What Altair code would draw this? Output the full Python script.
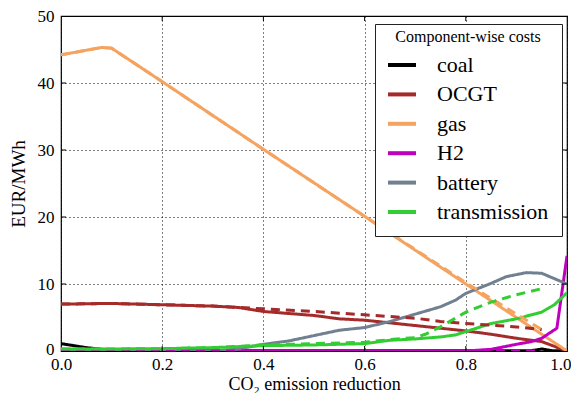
import altair as alt
import pandas as pd

FONT = "Liberation Serif"

series = ["coal", "OCGT", "gas", "H2", "battery", "transmission"]
colors = ["#000000", "#A52A2A", "#F4A460", "#BF00BF", "#708090", "#32CD32"]

# solid lines (scenario A)
coal_x = [0.0, 0.05, 0.1, 0.2, 0.4, 0.6, 0.8, 0.93, 0.95, 0.97, 1.0]
coal_y = [1.1, 0.5, 0.1, 0.05, 0.05, 0.05, 0.05, 0.05, 0.3, 0.05, 0.0]

ocgt_x = [0.0, 0.1, 0.2, 0.3, 0.35, 0.4, 0.45, 0.5, 0.55, 0.6, 0.65, 0.7, 0.75, 0.8, 0.85, 0.9, 0.95, 1.0]
ocgt_y = [7.0, 7.1, 6.9, 6.7, 6.5, 5.9, 5.6, 5.3, 4.8, 4.6, 4.2, 3.8, 3.4, 3.0, 2.5, 1.9, 1.4, 0.0]

gas_x = [0.0, 0.08, 0.1, 0.2, 0.4, 0.6, 0.8, 0.9, 0.95, 1.0]
gas_y = [44.2, 45.3, 45.2, 40.2, 30.1, 20.1, 10.0, 5.0, 2.5, 0.0]

h2_x = [0.0, 0.8, 0.85, 0.9, 0.93, 0.95, 0.98, 1.0]
h2_y = [0.0, 0.0, 0.25, 1.0, 1.4, 1.9, 3.4, 14.2]

battery_x = [0.0, 0.3, 0.35, 0.4, 0.45, 0.5, 0.55, 0.6, 0.65, 0.7, 0.75, 0.78, 0.8, 0.85, 0.88, 0.92, 0.95, 1.0]
battery_y = [0.0, 0.0, 0.3, 1.0, 1.5, 2.3, 3.1, 3.5, 4.4, 5.5, 6.6, 7.6, 8.6, 10.1, 11.1, 11.7, 11.6, 10.0]

trans_x = [0.0, 0.1, 0.2, 0.3, 0.4, 0.5, 0.6, 0.65, 0.7, 0.75, 0.78, 0.8, 0.85, 0.9, 0.95, 0.975, 1.0]
trans_y = [0.3, 0.3, 0.35, 0.5, 0.8, 0.9, 1.1, 1.6, 1.8, 2.1, 2.4, 2.9, 4.1, 4.8, 5.8, 6.9, 8.7]

# dashed lines (scenario B)
ocgt_dx = [0.0, 0.1, 0.2, 0.3, 0.35, 0.4, 0.5, 0.6, 0.7, 0.75, 0.8, 0.9, 0.95]
ocgt_dy = [7.0, 7.1, 6.9, 6.7, 6.5, 6.3, 5.9, 5.4, 4.9, 4.4, 4.1, 3.6, 3.2]

gas_dx = [0.0, 0.08, 0.1, 0.2, 0.4, 0.6, 0.8, 0.9, 0.95]
gas_dy = [44.2, 45.3, 45.2, 40.2, 30.1, 20.1, 10.2, 5.5, 3.2]

h2_dx = [0.0, 0.95]
h2_dy = [0.0, 0.0]

trans_dx = [0.0, 0.1, 0.2, 0.3, 0.4, 0.5, 0.6, 0.65, 0.7, 0.72, 0.75, 0.8, 0.85, 0.9, 0.95]
trans_dy = [0.3, 0.3, 0.35, 0.5, 0.9, 1.1, 1.3, 1.7, 2.0, 2.5, 3.6, 5.8, 7.3, 8.4, 9.3]

x_ticks = [0.0, 0.2, 0.4, 0.6, 0.8, 1.0]
y_ticks = [0, 10, 20, 30, 40, 50]

rows = []
def add(name, scen, xs, ys):
    for a, b in zip(xs, ys):
        rows.append({"x": a, "y": b, "series": name, "scenario": scen, "key": name + scen})

add("coal", "solid", coal_x, coal_y)
add("OCGT", "solid", ocgt_x, ocgt_y)
add("gas", "solid", gas_x, gas_y)
add("H2", "solid", h2_x, h2_y)
add("battery", "solid", battery_x, battery_y)
add("transmission", "solid", trans_x, trans_y)
add("OCGT", "dashed", ocgt_dx, ocgt_dy)
add("gas", "dashed", gas_dx, gas_dy)
add("H2", "dashed", h2_dx, h2_dy)
add("transmission", "dashed", trans_dx, trans_dy)
df = pd.DataFrame(rows)

W, H = 506, 335
xs = alt.Scale(domain=[0, 1], nice=False, zero=False)
ys = alt.Scale(domain=[0, 50], nice=False)

x_axis = alt.Axis(values=x_ticks, format=".1f", grid=True, gridDash=[1, 3],
                  gridColor="black", gridOpacity=1, gridWidth=1, ticks=False,
                  domain=False, labelPadding=5, titlePadding=3, labelFlush=False,
                  labelAlign=alt.ExprRef(expr="datum.value == 1 ? 'right' : 'center'"),
                  labelOffset=alt.ExprRef(expr="datum.value == 1 ? 4 : 0"),
                  titleFontSize=18)
y_axis = alt.Axis(values=y_ticks, format="d", grid=True, gridDash=[1, 3],
                  gridColor="black", gridOpacity=1, gridWidth=1, ticks=False,
                  domain=False, labelPadding=7, titlePadding=9, labelFlush=False,
                  labelOffset=alt.ExprRef(expr="datum.value == 0 ? -2 : 0"),
                  titleFontSize=19)
XT = "CO₂ emission reduction"
YT = "EUR/MWh"

lines = alt.Chart(df).mark_line(strokeWidth=3, clip=True).encode(
    x=alt.X("x:Q", scale=xs, title=XT, axis=x_axis),
    y=alt.Y("y:Q", scale=ys, title=YT, axis=y_axis),
    color=alt.Color("series:N", scale=alt.Scale(domain=series, range=colors),
                    legend=alt.Legend(title="Component-wise costs", orient="none",
                                      legendX=314, legendY=8, direction="vertical",
                                      strokeColor="#222222", fillColor="white",
                                      padding=13, symbolType="stroke",
                                      symbolStrokeWidth=4, symbolSize=784,
                                      symbolOffset=-2,
                                      labelFont=FONT, labelFontSize=22,
                                      titleFont=FONT, titleFontSize=16,
                                      titleBaseline="middle",
                                      titleFontWeight="normal", titleAnchor="middle",
                                      labelOffset=19, rowPadding=2.4, titlePadding=-4,
                                      labelColor="black", titleColor="black")),
    strokeDash=alt.StrokeDash("scenario:N",
                              scale=alt.Scale(domain=["solid", "dashed"], range=[[1, 0], [9, 6]]),
                              legend=None),
    detail="key:N",
)

xt = pd.DataFrame({"x": x_ticks[1:-1]})
yt = pd.DataFrame({"y": y_ticks[1:-1]})
tick_bottom = alt.Chart(xt).mark_rule(color="black", strokeWidth=1).encode(
    x=alt.X("x:Q", scale=xs, title=XT, axis=x_axis), y=alt.value(H), y2=alt.value(H - 5))
tick_top = alt.Chart(xt).mark_rule(color="black", strokeWidth=1).encode(
    x=alt.X("x:Q", scale=xs, title=XT, axis=x_axis), y=alt.value(0), y2=alt.value(5))
tick_left = alt.Chart(yt).mark_rule(color="black", strokeWidth=1).encode(
    y=alt.Y("y:Q", scale=ys, title=YT, axis=y_axis), x=alt.value(0), x2=alt.value(5))
tick_right = alt.Chart(yt).mark_rule(color="black", strokeWidth=1).encode(
    y=alt.Y("y:Q", scale=ys, title=YT, axis=y_axis), x=alt.value(W), x2=alt.value(W - 5))

chart = alt.layer(lines, tick_bottom, tick_top, tick_left, tick_right).properties(
    width=W, height=H,
    autosize=alt.AutoSizeParams(type="none"),
    padding={"left": 53, "top": 8, "right": 4, "bottom": 42},
).configure_view(stroke="black", strokeWidth=1.2).configure_axis(
    labelFont=FONT, labelFontSize=17, labelColor="black",
    titleFont=FONT, titleFontWeight="normal", titleColor="black",
)

chart.save("out.html", embed_options={"renderer": "svg", "actions": False})
